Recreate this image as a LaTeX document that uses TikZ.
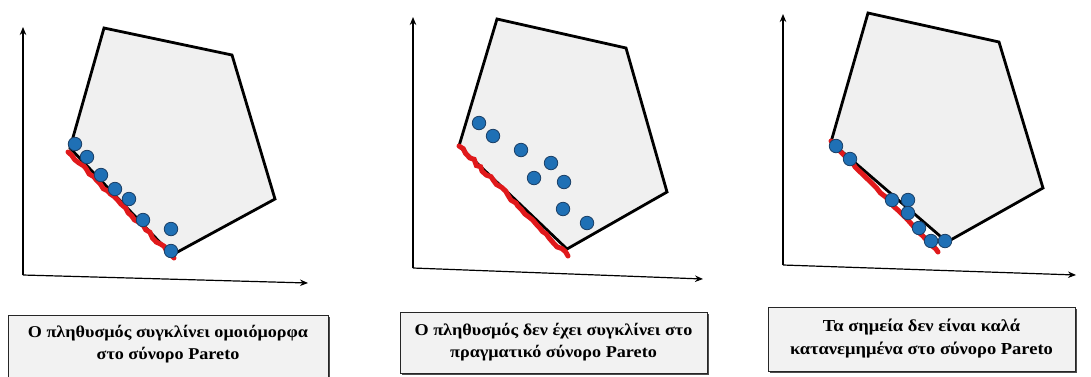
\documentclass[tikz,border=0pt]{standalone}
\usepackage{fontspec}
\setmainfont{Liberation Serif}
\newfontfamily\capfont[FakeStretch=1.1]{Liberation Serif}
\usetikzlibrary{arrows.meta,decorations.pathmorphing,shadows}
\definecolor{regiongray}{HTML}{F0F0F0}
\definecolor{boxgray}{HTML}{F2F2F2}
\definecolor{frontred}{HTML}{E0191B}
\definecolor{dotblue}{HTML}{1F70B5}
\definecolor{dotedge}{HTML}{1A3F66}
\begin{document}
\begin{tikzpicture}[x=1pt,y=-1pt,
  region/.style={fill=regiongray, draw=black, line width=2.8pt, line join=miter},
  front/.style={draw=frontred, line width=5pt, line cap=round, decorate,
    decoration={random steps, segment length=5pt, amplitude=1.4pt}},
  sol/.style={circle, fill=dotblue, draw=dotedge, line width=0.8pt, minimum size=13.5pt, inner sep=0pt},
  axis/.style={draw=black, line width=1.2pt, -{Stealth[length=8pt,width=6.5pt]}},
  captext/.style={font=\capfont\bfseries\fontsize{16.5}{22}\selectfont, align=center},
  caption/.style={captext, draw=black!85, line width=0.9pt, fill=boxgray, inner sep=0pt,
    drop shadow={shadow xshift=1.5pt, shadow yshift=-1.5pt, fill=black!70, opacity=1}}]
\clip (0,0) rectangle (1091,376);
\fill[white] (0,0) rectangle (1091,376);
\pgfmathsetseed{7}
% ---------------- Panel 1 ----------------
\coordinate (o1) at (23,275);
\coordinate (y1) at (23,27);
\coordinate (x1) at (308,283);
\draw[axis] (o1) -- (y1);
\draw[axis] (o1) -- (x1);
\coordinate (p1a) at (104,28);
\coordinate (p1b) at (232,55);
\coordinate (p1c) at (275,199);
\coordinate (p1d) at (172,255);
\coordinate (p1e) at (70,148);
\draw[region] (p1a) -- (p1b) -- (p1c) -- (p1d) -- (p1e) -- cycle;
\coordinate (f1s) at (68,152);
\coordinate (f1e) at (174,258);
\draw[front] (f1s) -- (f1e);
\node[sol] (d11) at (75,144) {};
\node[sol] (d12) at (87,157) {};
\node[sol] (d13) at (101,175) {};
\node[sol] (d14) at (115,189) {};
\node[sol] (d15) at (129,199) {};
\node[sol] (d16) at (143,220) {};
\node[sol] (d17) at (171,229) {};
\node[sol] (d18) at (171,251) {};
% ---------------- Panel 2 ----------------
\coordinate (o2) at (413,268);
\coordinate (y2) at (413,17);
\coordinate (x2) at (703,279);
\draw[axis] (o2) -- (y2);
\draw[axis] (o2) -- (x2);
\coordinate (p2a) at (497,19);
\coordinate (p2b) at (626,48);
\coordinate (p2c) at (667,192);
\coordinate (p2d) at (567,249);
\coordinate (p2e) at (459,146);
\draw[region] (p2a) -- (p2b) -- (p2c) -- (p2d) -- (p2e) -- cycle;
\coordinate (f2s) at (459,146);
\coordinate (f2e) at (568,256);
\draw[front] (f2s) -- (f2e);
\node[sol] (d21) at (479,123) {};
\node[sol] (d22) at (493,136) {};
\node[sol] (d23) at (521,150) {};
\node[sol] (d24) at (551,163) {};
\node[sol] (d25) at (534,178) {};
\node[sol] (d26) at (564,182) {};
\node[sol] (d27) at (563,209) {};
\node[sol] (d28) at (587,223) {};
% ---------------- Panel 3 ----------------
\coordinate (o3) at (783,265);
\coordinate (y3) at (783,14);
\coordinate (x3) at (1076,275);
\draw[axis] (o3) -- (y3);
\draw[axis] (o3) -- (x3);
\coordinate (p3a) at (868,13);
\coordinate (p3b) at (999,42);
\coordinate (p3c) at (1043,188);
\coordinate (p3d) at (947,242);
\coordinate (p3e) at (831,142);
\draw[region] (p3a) -- (p3b) -- (p3c) -- (p3d) -- (p3e) -- cycle;
\coordinate (f3s) at (831,141);
\coordinate (f3e) at (938,252);
\draw[front, decoration={random steps, segment length=6pt, amplitude=0.7pt}] (f3s) -- (f3e);
\node[sol] (d31) at (836,146) {};
\node[sol] (d32) at (850,159) {};
\node[sol] (d33) at (892,200) {};
\node[sol] (d34) at (908,200) {};
\node[sol] (d35) at (908,213) {};
\node[sol] (d36) at (919,228) {};
\node[sol] (d37) at (931,241) {};
\node[sol] (d38) at (945,241) {};
% ---------------- Captions ----------------
\node[caption, minimum width=320pt, minimum height=74pt, anchor=north] (c1) at (168,315) {};
\node[captext] (t1) at (168,344)
  {Ο πληθυσμός συγκλίνει ομοιόμορφα\\στο σύνορο Pareto};
\node[caption, minimum width=307pt, minimum height=61pt] (c2) at (553.5,342.5)
  {Ο πληθυσμός δεν έχει συγκλίνει στο\\πραγματικό σύνορο Pareto};
\node[caption, minimum width=307pt, minimum height=64pt,
  font=\capfont\bfseries\fontsize{16.8}{23}\selectfont] (c3) at (921.5,339)
  {Τα σημεία δεν είναι καλά\\κατανεμημένα στο σύνορο Pareto};
\end{tikzpicture}
\end{document}
